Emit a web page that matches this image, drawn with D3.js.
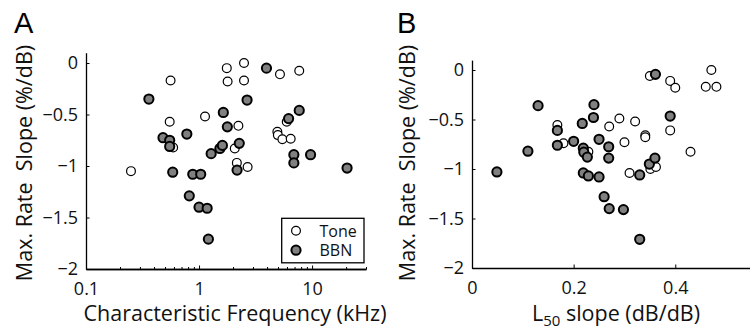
<!DOCTYPE html>
<html>
<head>
<meta charset="utf-8">
<script src="https://cdn.jsdelivr.net/npm/d3@7"></script>
<style>
  body { margin: 0; background: #fff; }
  svg { display: block; font-family: "Open Sans", sans-serif; }
</style>
</head>
<body>
<div id="chart"></div>
<script>
// panel A: characteristic frequency (kHz) vs max rate slope
const toneCF = [0.25, 0.56, 0.55, 0.59, 1.13, 1.76, 1.79, 2.5, 2.5, 2.23, 2.07, 2.16, 2.69, 5.2, 7.7, 4.93, 4.98, 5.46, 6.47, 5.97];
const toneSlopeA = [-1.05, -0.17, -0.57, -0.82, -0.52, -0.05, -0.18, 0, -0.17, -0.61, -0.83, -0.97, -1.01, -0.11, -0.075, -0.667, -0.70, -0.74, -0.735, -0.57];
const bbnCF = [0.36, 0.48, 0.55, 0.55, 0.585, 0.78, 0.82, 0.88, 1.035, 1.0, 1.18, 1.21, 1.28, 1.53, 1.61, 1.64, 1.78, 2.27, 2.17, 2.66, 3.95, 6.2, 7.7, 6.9, 6.9, 9.7, 20.4];
const bbnSlopeA = [-0.35, -0.725, -0.75, -0.81, -1.06, -0.69, -1.29, -1.08, -1.08, -1.40, -1.41, -1.71, -0.88, -0.83, -0.80, -0.48, -0.62, -0.78, -1.04, -0.36, -0.05, -0.54, -0.46, -0.89, -0.97, -0.89, -1.02];

// panel B: L50 slope (dB/dB) vs max rate slope
const toneL50 = [0.168, 0.18, 0.229, 0.27, 0.29, 0.30, 0.321, 0.341, 0.341, 0.31, 0.351, 0.362, 0.35, 0.39, 0.40, 0.471, 0.46, 0.481, 0.39, 0.43];
const toneSlopeB = [-0.556, -0.74, -0.825, -0.57, -0.49, -0.73, -0.52, -0.66, -0.68, -1.04, -1.0, -0.98, -0.06, -0.11, -0.18, 0, -0.17, -0.17, -0.61, -0.825];
const bbnL50 = [0.049, 0.11, 0.13, 0.168, 0.168, 0.20, 0.217, 0.219, 0.22, 0.227, 0.219, 0.229, 0.24, 0.239, 0.25, 0.25, 0.269, 0.269, 0.26, 0.27, 0.298, 0.33, 0.33, 0.349, 0.36, 0.361, 0.39];
const bbnSlopeB = [-1.03, -0.82, -0.36, -0.61, -0.76, -0.72, -0.54, -0.79, -0.83, -0.88, -1.04, -1.07, -0.35, -0.48, -0.70, -1.08, -0.775, -0.89, -1.28, -1.40, -1.41, -1.06, -1.71, -0.95, -0.89, -0.044, -0.465];

const yTicks = [0, -0.5, -1, -1.5, -2];
const cfTicks = [0.1, 1, 10];
const cfMinor = [0.2, 0.3, 0.4, 0.5, 0.6, 0.7, 0.8, 0.9, 2, 3, 4, 5, 6, 7, 8, 9, 20, 30];
const l50Ticks = [0, 0.2, 0.4];
const legendLabels = ["Tone", "BBN"];

const W = 750, H = 329;
const fmt = d3.format("~g");

const svg = d3.select("#chart").append("svg")
    .attr("width", W)
    .attr("height", H);
svg.append("rect").attr("width", W).attr("height", H).attr("fill", "#fff");

function styleAxis(g) {
    g.select(".domain").attr("stroke", "#000").attr("stroke-width", 1.3);
    g.selectAll(".tick line").attr("stroke", "#000").attr("stroke-width", 1);
    g.selectAll(".tick text").attr("fill", "#111").style("font-size", "18px")
        .style("font-family", "'Open Sans', sans-serif");
}

function drawPoints(g, xs, ys, x, y, filled) {
    g.append("g")
        .selectAll("circle")
        .data(xs.map((v, i) => [v, ys[i]]))
        .join("circle")
            .attr("cx", d => x(d[0]))
            .attr("cy", d => y(d[1]))
            .attr("r", filled ? 4.6 : 4.4)
            .attr("fill", filled ? "#808080" : "#fff")
            .attr("stroke", "#000")
            .attr("stroke-width", filled ? 2 : 1.2);
}

// ---- panel A ----
const xA = d3.scaleLog().domain([0.1, 30]).range([86, 366]);
const yA = d3.scaleLinear().domain([-2, 0.1]).range([269, 52.7]);

const gA = svg.append("g");
// minor log ticks, no labels
gA.append("g")
    .attr("transform", `translate(0,${yA(-2)})`)
    .call(d3.axisBottom(xA).tickValues(cfMinor).tickSizeInner(-2).tickSizeOuter(0).tickFormat(""))
    .call(styleAxis)
    .call(g => g.selectAll(".tick text").remove());
gA.append("g")
    .attr("transform", `translate(0,${yA(-2)})`)
    .call(d3.axisBottom(xA).tickValues(cfTicks).tickSizeInner(-3.5).tickSizeOuter(0).tickPadding(13).tickFormat(fmt))
    .call(styleAxis);
gA.append("g")
    .attr("transform", `translate(${xA(0.1)},0)`)
    .call(d3.axisLeft(yA).tickValues(yTicks).tickSizeInner(-3.5).tickSizeOuter(0).tickPadding(8).tickFormat(fmt))
    .call(styleAxis);

drawPoints(gA, toneCF, toneSlopeA, xA, yA, false);
drawPoints(gA, bbnCF, bbnSlopeA, xA, yA, true);

// legend
const leg = gA.append("g");
leg.append("rect")
    .attr("x", 281.7).attr("y", 218.3).attr("width", 82.3).attr("height", 44.5)
    .attr("fill", "#fff").attr("stroke", "#000").attr("stroke-width", 1.3);
legendLabels.forEach((t, i) => {
    leg.append("circle")
        .attr("cx", 296).attr("cy", 230.7 + i * 19.5)
        .attr("r", i ? 4.6 : 4.4)
        .attr("fill", i ? "#808080" : "#fff")
        .attr("stroke", "#000").attr("stroke-width", i ? 2 : 1.2);
    leg.append("text")
        .attr("x", 319.5).attr("y", 236.5 + i * 19.5)
        .style("font-size", "16px").attr("fill", "#111")
        .text(t);
});

gA.append("text")
    .attr("x", 235).attr("y", 321)
    .attr("text-anchor", "middle")
    .style("font-size", "21.5px").attr("fill", "#111")
    .text("Characteristic Frequency (kHz)");
gA.append("text")
    .attr("transform", "translate(32,163) rotate(-90)")
    .attr("text-anchor", "middle")
    .style("font-size", "21.5px").attr("fill", "#111")
    .text("Max. Rate\u00a0 Slope (%/dB)");
gA.append("text")
    .attr("x", 14).attr("y", 33)
    .style("font-family", "'Liberation Sans', Arial, sans-serif")
    .style("font-size", "29px").attr("fill", "#000")
    .text("A");

// ---- panel B ----
const xB = d3.scaleLinear().domain([0, 0.55]).range([472, 751.5]);
const yB = d3.scaleLinear().domain([-2, 0.1]).range([268, 60.1]);

const gB = svg.append("g");
gB.append("g")
    .attr("transform", `translate(0,${yB(-2)})`)
    .call(d3.axisBottom(xB).tickValues(l50Ticks).tickSizeInner(-3.5).tickSizeOuter(0).tickPadding(13).tickFormat(fmt))
    .call(styleAxis);
gB.append("g")
    .attr("transform", `translate(${xB(0)},0)`)
    .call(d3.axisLeft(yB).tickValues(yTicks).tickSizeInner(-3.5).tickSizeOuter(0).tickPadding(8).tickFormat(fmt))
    .call(styleAxis);

drawPoints(gB, toneL50, toneSlopeB, xB, yB, false);
drawPoints(gB, bbnL50, bbnSlopeB, xB, yB, true);

const xlabB = gB.append("text")
    .attr("x", 616).attr("y", 321)
    .attr("text-anchor", "middle")
    .style("font-size", "21.5px").attr("fill", "#111");
xlabB.append("tspan").text("L");
xlabB.append("tspan").attr("dy", 5).style("font-size", "15px").text("50");
xlabB.append("tspan").attr("dy", -5).text(" slope (dB/dB)");

gB.append("text")
    .attr("transform", "translate(415,163) rotate(-90)")
    .attr("text-anchor", "middle")
    .style("font-size", "21.5px").attr("fill", "#111")
    .text("Max. Rate\u00a0 Slope (%/dB)");
gB.append("text")
    .attr("x", 397).attr("y", 33)
    .style("font-family", "'Liberation Sans', Arial, sans-serif")
    .style("font-size", "29px").attr("fill", "#000")
    .text("B");
</script>
</body>
</html>
